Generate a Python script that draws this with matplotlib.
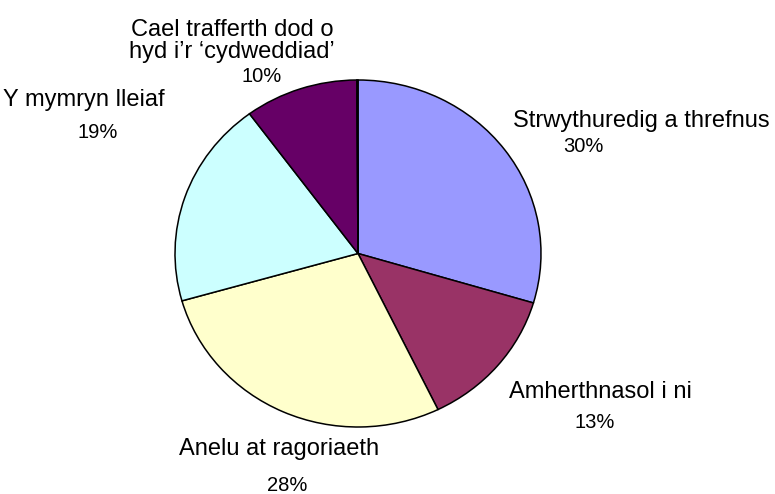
import matplotlib.pyplot as plt

# slice data, clockwise from 12 o'clock
categories = ["Strwythuredig a threfnus", "Amherthnasol i ni", "Anelu at ragoriaeth",
              "Y mymryn lleiaf", "Cael trafferth dod o\nhyd i\u2019r \u2018cydweddiad\u2019", ""]
values = [29.6, 13.2, 27.8, 19.3, 10.0, 0.1]
pct_labels = ["30%", "13%", "28%", "19%", "10%", ""]
slice_colors = ["#9999FF", "#993366", "#FFFFCC", "#CCFFFF", "#660066", "#FFFFFF"]

W, H = 775, 494
plt.rcParams['font.family'] = ['Liberation Sans', 'DejaVu Sans']

fig = plt.figure(figsize=(W / 100, H / 100), dpi=100)
# pie box in pixels: left 175, right 541, top 80, bottom 427 (stretched like the original)
ax = fig.add_axes([175 / W, (H - 427) / H, 366 / W, 347 / H])
ax.pie(values, colors=slice_colors, startangle=90, counterclock=False,
       wedgeprops=dict(edgecolor="black", linewidth=1.1))
ax.set_aspect('auto')
ax.set_xlim(-1, 1)
ax.set_ylim(-1, 1)
ax.axis('off')


def put(x, y, s, size, **kw):
    fig.text(x / W, 1 - y / H, s, ha='center', va='center', fontsize=size, **kw)


# category label positions (pixel centres) and percent positions
name_pos = [(641, 121), (600, 392), (279, 449), (84, 100), (232, 41)]
pct_pos = [(583, 147), (595, 422), (287, 485), (98, 132), (262, 76)]

for name, pct, npos, ppos in zip(categories, pct_labels, name_pos, pct_pos):
    put(npos[0], npos[1], name, 17, linespacing=1.05)
    put(ppos[0], ppos[1], pct, 14.5)

fig.savefig("out.png", dpi=100)
